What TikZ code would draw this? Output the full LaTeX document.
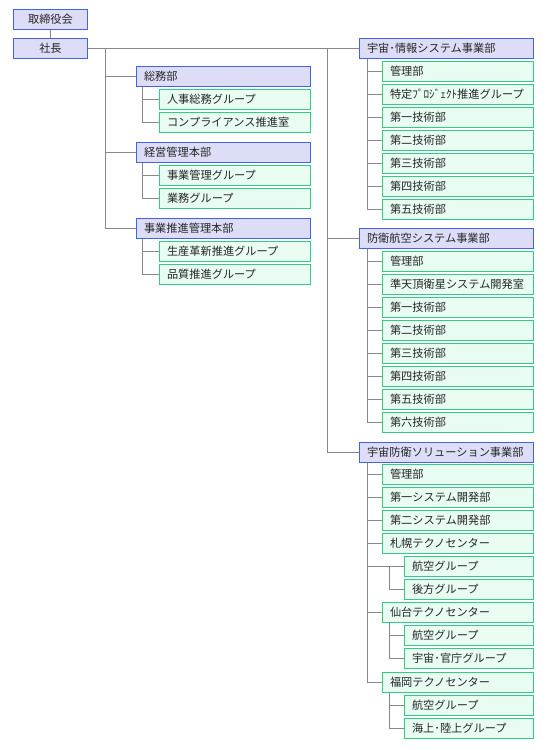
\documentclass[tikz,border=0pt]{standalone}
\usepackage{fontspec}
\newfontfamily\jp{Noto Sans CJK JP}
\definecolor{hb}{HTML}{4262F0}
\definecolor{hf}{HTML}{DDDDF8}
\definecolor{sb}{HTML}{30CC88}
\definecolor{sf}{HTML}{E8FCF2}
\definecolor{ln}{HTML}{888888}
\begin{document}
\begin{tikzpicture}[x=1pt,y=-1pt,
 box/.style={draw, line width=1pt, minimum height=20pt, inner xsep=8pt, inner ysep=0pt, anchor=west, align=left, font=\jp\fontsize{11.2}{13}\selectfont, text=black!85},
 hdr/.style={box, draw=hb, fill=hf, text width=158pt},
 chd/.style={box, draw=sb, fill=sf, text width=135pt},
 sbc/.style={box, draw=sb, fill=sf, text width=113pt},
 topbox/.style={box, draw=hb, fill=hf, anchor=center, align=center, text width=58pt},
 conn/.style={draw=ln, line width=1pt}]
\useasboundingbox (0,0) rectangle (550,750);
\fill[white] (0,0) rectangle (550,750);

% top
\node[topbox] (tori) at (50.5,19) {取締役会};
\node[topbox] (shacho) at (50.5,48) {社長};

% left
\node[hdr] (somu) at (135.5,76) {総務部};
\node[chd] (jinji) at (158.5,99) {人事総務グループ};
\node[chd] (comp) at (158.5,122) {コンプライアンス推進室};
\node[hdr] (keiei) at (135.5,152.5) {経営管理本部};
\node[chd] (jgk) at (158.5,175) {事業管理グループ};
\node[chd] (gyomu) at (158.5,198) {業務グループ};
\node[hdr] (suishin) at (135.5,228) {事業推進管理本部};
\node[chd] (seisan) at (158.5,251) {生産革新推進グループ};
\node[chd] (hinshitsu) at (158.5,274) {品質推進グループ};

% right 1
\node[hdr] (uc) at (358.5,48) {宇宙･情報システム事業部};
\node[chd] (uca) at (381.5,71) {管理部};
\node[chd] (ucb) at (381.5,94) {特定ﾌﾟﾛｼﾞｪｸﾄ推進グループ};
\node[chd] (ucc) at (381.5,117) {第一技術部};
\node[chd] (ucd) at (381.5,140) {第二技術部};
\node[chd] (uce) at (381.5,163) {第三技術部};
\node[chd] (ucf) at (381.5,186) {第四技術部};
\node[chd] (ucg) at (381.5,209) {第五技術部};

% right 2
\node[hdr] (bo) at (358.5,238) {防衛航空システム事業部};
\node[chd] (boa) at (381.5,261) {管理部};
\node[chd] (bob) at (381.5,284) {準天頂衛星システム開発室};
\node[chd] (boc) at (381.5,307) {第一技術部};
\node[chd] (bod) at (381.5,330) {第二技術部};
\node[chd] (boe) at (381.5,353) {第三技術部};
\node[chd] (bof) at (381.5,376) {第四技術部};
\node[chd] (bog) at (381.5,399) {第五技術部};
\node[chd] (boh) at (381.5,422) {第六技術部};

% right 3
\node[hdr] (ub) at (358.5,452) {宇宙防衛ソリューション事業部};
\node[chd] (uba) at (381.5,474) {管理部};
\node[chd] (ubb) at (381.5,497) {第一システム開発部};
\node[chd] (ubc) at (381.5,520) {第二システム開発部};
\node[chd] (sap) at (381.5,543) {札幌テクノセンター};
\node[sbc] (sapa) at (403.5,566) {航空グループ};
\node[sbc] (sapb) at (403.5,589) {後方グループ};
\node[chd] (sen) at (381.5,612) {仙台テクノセンター};
\node[sbc] (sena) at (403.5,635) {航空グループ};
\node[sbc] (senb) at (403.5,658) {宇宙･官庁グループ};
\node[chd] (fuk) at (381.5,682) {福岡テクノセンター};
\node[sbc] (fuka) at (403.5,705) {航空グループ};
\node[sbc] (fukb) at (403.5,728) {海上･陸上グループ};

% connectors
\draw[conn] (tori) -- (shacho);
\draw[conn] (shacho.east) -- (uc.west);
\coordinate (L) at (105.5,48);
\coordinate (R) at (327.5,48);
\foreach \c in {somu,keiei,suishin} \draw[conn] (L) |- (\c.west);
\foreach \c in {bo,ub} \draw[conn] (R) |- (\c.west);
\foreach \p/\c in {somu/jinji,somu/comp,keiei/jgk,keiei/gyomu,suishin/seisan,suishin/hinshitsu}
  \draw[conn] ([xshift=7pt]\p.south west) |- (\c.west);
\foreach \p/\c in {uc/uca,uc/ucb,uc/ucc,uc/ucd,uc/uce,uc/ucf,uc/ucg,
  bo/boa,bo/bob,bo/boc,bo/bod,bo/boe,bo/bof,bo/bog,bo/boh,
  ub/uba,ub/ubb,ub/ubc,ub/sap,ub/sapa,ub/sen,ub/fuk}
  \draw[conn] ([xshift=8.5pt]\p.south west) |- (\c.west);
\coordinate (sx) at ([xshift=8pt]sap.south west);
\draw[conn] (sx |- sapa.west) |- (sapb.west);
\foreach \p/\c in {sen/sena,sen/senb,fuk/fuka,fuk/fukb}
  \draw[conn] ([xshift=8pt]\p.south west) |- (\c.west);
\end{tikzpicture}
\end{document}
